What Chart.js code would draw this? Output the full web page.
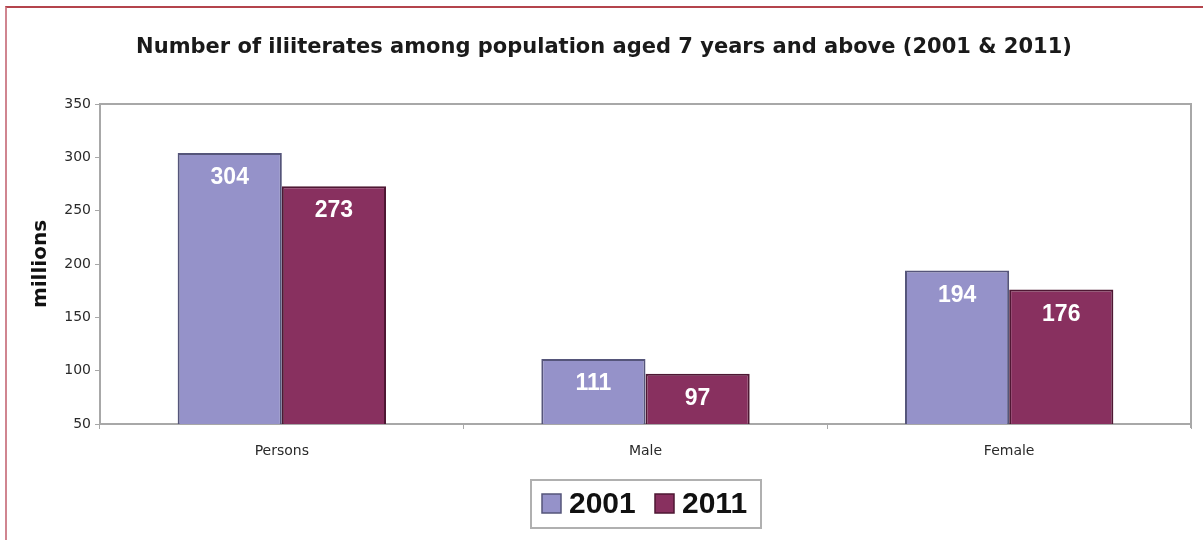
<!DOCTYPE html>
<html>
<head>
<meta charset="utf-8">
<script src="https://cdn.jsdelivr.net/npm/chart.js@4"></script>
<style>
  html, body { margin: 0; padding: 0; background: #fff; }
  #wrap { position: relative; width: 1203px; height: 540px; }
  #frame { position: absolute; left: 5px; top: 6px; right: 0; bottom: 0;
           border-left: 2px solid #d08590; border-top: 2px solid #b4444c; pointer-events: none; }
</style>
</head>
<body>
<div id="wrap">
  <canvas id="myChart" width="1203" height="540"></canvas>
  <div id="frame"></div>
</div>
<script>
// illiterate population, in millions
const groups = ['Persons', 'Male', 'Female'];
const years = ['2001', '2011'];
const values2001 = [304, 111, 194];
const values2011 = [273, 97, 176];
const yTicks = [50, 100, 150, 200, 250, 300, 350];

const fills = ['#9592c9', '#88305f'];
const edges = ['#55557a', '#4e1733'];
const axisGray = '#a8a8a8';
const wide = '"DejaVu Sans", Verdana, sans-serif';
const plain = '"Liberation Sans", Arial, sans-serif';

// value text inside the top of each bar
const barLabels = {
  id: 'barLabels',
  afterDatasetsDraw(chart) {
    const ctx = chart.ctx;
    ctx.save();
    ctx.font = 'bold 23px ' + plain;
    ctx.fillStyle = '#ffffff';
    ctx.textAlign = 'center';
    ctx.textBaseline = 'middle';
    chart.data.datasets.forEach((ds, i) => {
      chart.getDatasetMeta(i).data.forEach((bar, j) => {
        ctx.fillText(ds.data[j], bar.x, bar.y + 25);
      });
    });
    ctx.restore();
  }
};

// title, plot frame and boxed legend
const decorations = {
  id: 'decorations',
  beforeDatasetsDraw(chart) {
    const { ctx, chartArea: a } = chart;
    ctx.save();
    ctx.strokeStyle = axisGray;
    ctx.lineWidth = 2;
    ctx.beginPath();
    ctx.moveTo(a.left, a.top);
    ctx.lineTo(a.right, a.top);
    ctx.lineTo(a.right, a.bottom + 4);
    ctx.stroke();
    ctx.restore();
  },
  afterDraw(chart) {
    const ctx = chart.ctx;
    ctx.save();
    ctx.fillStyle = '#1a1a1a';
    ctx.font = 'bold 21px ' + wide;
    ctx.textAlign = 'center';
    ctx.textBaseline = 'middle';
    ctx.fillText('Number of iliiterates among population aged 7 years and above (2001 & 2011)', 604, 48);

    // legend box
    const bx = 531, by = 480, bw = 230, bh = 48;
    ctx.strokeStyle = '#b0b0b0';
    ctx.lineWidth = 2;
    ctx.strokeRect(bx, by, bw, bh);
    ctx.font = 'bold 30px ' + plain;
    ctx.textAlign = 'left';
    const xs = [542, 655];
    years.forEach((y, i) => {
      ctx.fillStyle = fills[i];
      ctx.fillRect(xs[i], by + 14, 19, 19);
      ctx.strokeStyle = edges[i];
      ctx.lineWidth = 1.5;
      ctx.strokeRect(xs[i], by + 14, 19, 19);
      ctx.fillStyle = '#111';
      ctx.fillText(y, xs[i] + 27, by + 25);
    });
    ctx.restore();
  }
};

new Chart(document.getElementById('myChart'), {
  type: 'bar',
  data: {
    labels: groups,
    datasets: [
      { label: years[0], data: values2001, backgroundColor: fills[0], borderColor: edges[0], borderWidth: 2 },
      { label: years[1], data: values2011, backgroundColor: fills[1], borderColor: edges[1], borderWidth: 2 }
    ]
  },
  options: {
    responsive: false,
    animation: false,
    layout: { padding: { top: 104, left: 29, right: 12, bottom: 0 } },
    datasets: { bar: { categoryPercentage: 0.573, barPercentage: 1.0 } },
    plugins: {
      legend: { display: false },
      tooltip: { enabled: false }
    },
    scales: {
      x: {
        grid: { display: true, offset: true, drawOnChartArea: false, drawTicks: true, tickLength: 5, color: axisGray },
        border: { display: true, color: axisGray, width: 2 },
        ticks: { color: '#2a2a2a', padding: 14, font: { size: 14, family: wide } },
        afterFit(scale) { scale.height = 116; }
      },
      y: {
        min: yTicks[0],
        max: yTicks[yTicks.length - 1],
        afterBuildTicks(scale) { scale.ticks = yTicks.map(v => ({ value: v })); },
        grid: { display: true, drawOnChartArea: false, drawTicks: true, tickLength: 5, color: axisGray },
        border: { display: true, color: axisGray, width: 2 },
        ticks: { color: '#2a2a2a', padding: 4, font: { size: 14, family: wide } },
        title: {
          display: true,
          text: 'millions',
          color: '#111',
          padding: 0,
          font: { size: 20, weight: 'bold', family: wide }
        },
        afterFit(scale) { scale.width = 71; }
      }
    }
  },
  plugins: [barLabels, decorations]
});
</script>
</body>
</html>
